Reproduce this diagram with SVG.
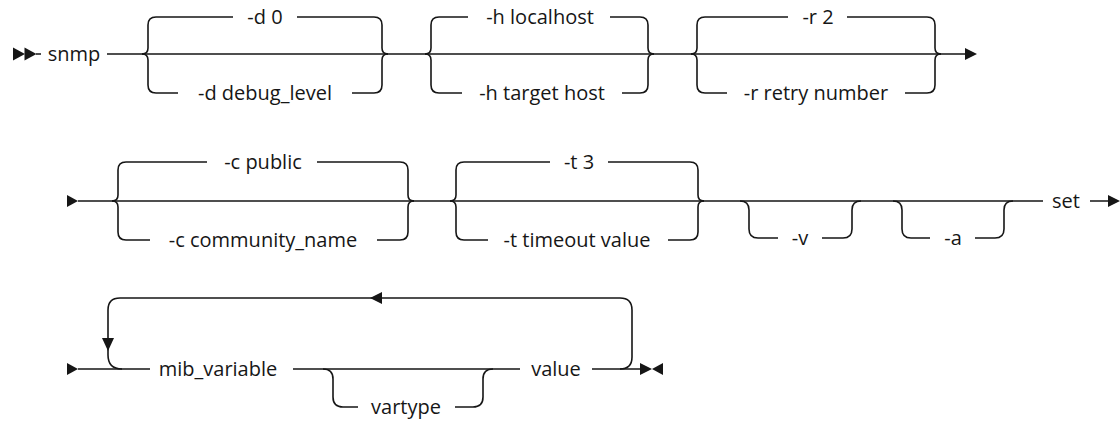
<svg xmlns="http://www.w3.org/2000/svg" width="1120" height="422" viewBox="0 0 1120 422">
<style>
.ln{fill:none;stroke:#161616;stroke-width:1.6;stroke-linecap:butt;stroke-linejoin:round}
.ah{fill:#161616;stroke:none}
text{font-family:"Open Sans","Noto Sans","Liberation Sans",sans-serif;font-size:20px;fill:#161616;text-anchor:middle}
</style>
<rect width="1120" height="422" fill="#ffffff"/>
<g id="connectors">
  <!-- row 1 -->
  <path class="ln" d="M36,54 H41 M107,54 H965"/>
  <path class="ln" d="M142,54 Q148,54 148,48 V25 Q148,17 156,17 H233 M297,17 H374 Q382,17 382,25 V48 Q382,54 388,54"/>
  <path class="ln" d="M142,54 Q148,54 148,60 V85 Q148,93 156,93 H178 M352,93 H374 Q382,93 382,85 V60 Q382,54 388,54"/>
  <path class="ln" d="M425,54 Q431,54 431,48 V25 Q431,17 439,17 H468 M610,17 H640 Q648,17 648,25 V48 Q648,54 654,54"/>
  <path class="ln" d="M425,54 Q431,54 431,60 V85 Q431,93 439,93 H462 M622,93 H640 Q648,93 648,85 V60 Q648,54 654,54"/>
  <path class="ln" d="M691,54 Q697,54 697,48 V25 Q697,17 705,17 H788 M847,17 H927 Q935,17 935,25 V48 Q935,54 941,54"/>
  <path class="ln" d="M691,54 Q697,54 697,60 V85 Q697,93 705,93 H727 M905,93 H927 Q935,93 935,85 V60 Q935,54 941,54"/>
  <polygon class="ah" points="13,47.5 13,60.5 25,54"/>
  <polygon class="ah" points="24.5,47.5 24.5,60.5 36.5,54"/>
  <polygon class="ah" points="965,48 965,60 977,54"/>
  <!-- row 2 -->
  <polygon class="ah" points="67,195 67,207 78,201"/>
  <path class="ln" d="M78,201 H1043 M1090,201 H1109"/>
  <path class="ln" d="M112,201 Q118,201 118,195 V170 Q118,162 126,162 H207 M317,162 H400 Q408,162 408,170 V195 Q408,201 414,201"/>
  <path class="ln" d="M112,201 Q118,201 118,207 V232 Q118,240 126,240 H150 M377,240 H400 Q408,240 408,232 V207 Q408,201 414,201"/>
  <path class="ln" d="M450,201 Q456,201 456,195 V170 Q456,162 464,162 H550 M608,162 H690 Q698,162 698,170 V195 Q698,201 704,201"/>
  <path class="ln" d="M450,201 Q456,201 456,207 V232 Q456,240 464,240 H488 M668,240 H690 Q698,240 698,232 V207 Q698,201 704,201"/>
  <path class="ln" d="M740,201 Q749,201 749,210 V229 Q749,238 758,238 H778 M822,238 H843 Q852,238 852,229 V210 Q852,201 861,201"/>
  <path class="ln" d="M893,201 Q902,201 902,210 V229 Q902,238 911,238 H930 M975,238 H995 Q1004,238 1004,229 V210 Q1004,201 1013,201"/>
  <polygon class="ah" points="1108,195 1108,207 1120,201"/>
  <!-- row 3 -->
  <polygon class="ah" points="67,363 67,375 78,369"/>
  <path class="ln" d="M78,369 H150 M293,369 H520 M592,369 H641"/>
  <path class="ln" d="M323,369 Q333,369 333,379 V397 Q333,407 343,407 H358 M455,407 H473 Q483,407 483,397 V379 Q483,369 493,369"/>
  <path class="ln" d="M620,369 Q632,369 632,357 V310 Q632,298 620,298 H120 Q108,298 108,310 V355 Q108,369 122,369"/>
  <polygon class="ah" points="370,298 382,292 382,304"/>
  <polygon class="ah" points="102,338 114,338 108,351"/>
  <polygon class="ah" points="640,363 640,375 652,369"/>
  <polygon class="ah" points="663,363 663,375 652,369"/>
</g>
<g id="n-snmp"><text x="74" y="61">snmp</text></g>
<g id="n-d0"><text x="265" y="24">-d 0</text></g>
<g id="n-ddebug"><text x="265" y="100">-d debug_level</text></g>
<g id="n-hlocal"><text x="540" y="24">-h localhost</text></g>
<g id="n-htarget"><text x="542" y="100">-h target host</text></g>
<g id="n-r2"><text x="818" y="24">-r 2</text></g>
<g id="n-rretry"><text x="816" y="100">-r retry number</text></g>
<g id="n-cpublic"><text x="263" y="169">-c public</text></g>
<g id="n-ccomm"><text x="263" y="247">-c community_name</text></g>
<g id="n-t3"><text x="579" y="169">-t 3</text></g>
<g id="n-ttimeout"><text x="577" y="247">-t timeout value</text></g>
<g id="n-v"><text x="800" y="245">-v</text></g>
<g id="n-a"><text x="953" y="245">-a</text></g>
<g id="n-set"><text x="1066" y="208">set</text></g>
<g id="n-mib"><text x="218" y="376">mib_variable</text></g>
<g id="n-vartype"><text x="406" y="414">vartype</text></g>
<g id="n-value"><text x="556" y="376">value</text></g>
</svg>
